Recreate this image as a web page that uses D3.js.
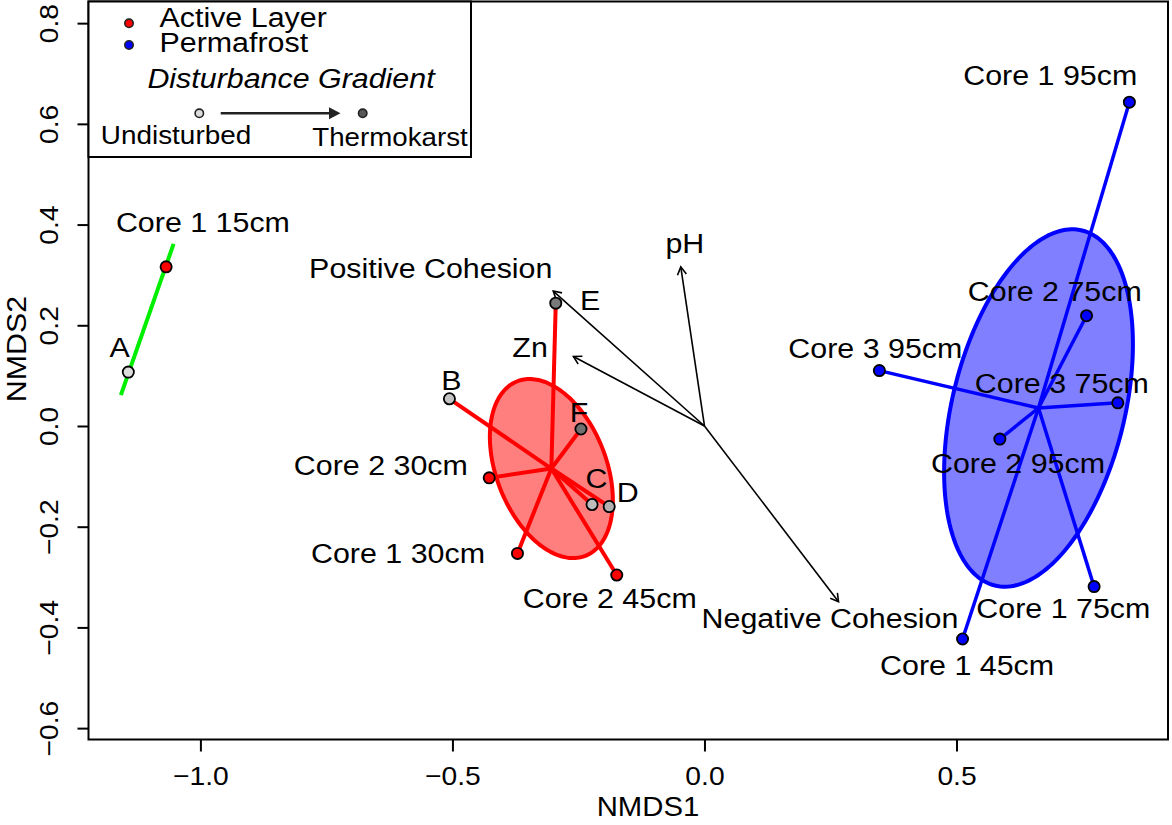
<!DOCTYPE html>
<html>
<head>
<meta charset="utf-8">
<script src="https://cdn.jsdelivr.net/npm/d3@7"></script>
<style>
  html, body { margin: 0; padding: 0; background: #fff; }
  svg { display: block; font-family: "Liberation Sans", Arial, Helvetica, sans-serif; }
</style>
</head>
<body>
<svg id="chart" width="1172" height="825"></svg>
<script>
// ---------------- DATA ----------------
const sampleNames = ["Core 1 15cm", "A",
  "B", "C", "D", "E", "F", "Core 1 30cm", "Core 2 30cm", "Core 2 45cm",
  "Core 1 45cm", "Core 1 75cm", "Core 1 95cm", "Core 2 75cm", "Core 2 95cm", "Core 3 75cm", "Core 3 95cm"];
// cluster membership (ellipse / spider groups)
const sampleCluster = ["g1", "g1",
  "g2", "g2", "g2", "g2", "g2", "g2", "g2", "g2",
  "g3", "g3", "g3", "g3", "g3", "g3", "g3"];
// sample type: active layer, permafrost, or reference (disturbance gradient)
const sampleType = ["active", "reference",
  "reference", "reference", "reference", "reference", "reference", "active", "active", "active",
  "permafrost", "permafrost", "permafrost", "permafrost", "permafrost", "permafrost", "permafrost"];
// disturbance index for reference samples (0 = undisturbed, 1 = thermokarst)
const disturbance = [null, 0.03,
  0.21, 0.26, 0.35, 0.76, 0.82, null, null, null,
  null, null, null, null, null, null, null];
const nmds1 = [-1.068, -1.143,
  -0.506, -0.223, -0.189, -0.295, -0.245, -0.371, -0.427, -0.174,
  0.512, 0.773, 0.843, 0.758, 0.586, 0.820, 0.347];
const nmds2 = [0.316, 0.107,
  0.054, -0.156, -0.160, 0.244, -0.006, -0.253, -0.103, -0.296,
  -0.423, -0.319, 0.643, 0.219, -0.026, 0.046, 0.110];
// label anchor (centre of text) in NMDS coordinates
const labelX = [-0.995, -1.160,
  -0.502, -0.214, -0.152, -0.227, -0.249, -0.608, -0.642, -0.188,
  0.521, 0.712, 0.686, 0.695, 0.622, 0.709, 0.339];
const labelY = [0.405, 0.157,
  0.091, -0.103, -0.131, 0.250, 0.028, -0.252, -0.078, -0.342,
  -0.475, -0.362, 0.697, 0.267, -0.074, 0.085, 0.154];

// ellipses (semi-axes and rotation in NMDS units / degrees)
const ellipseCluster = ["g1", "g2", "g3"];
const ellipseA = [0.159, 0.186, 0.363];
const ellipseB = [0.0, 0.109, 0.171];
const ellipseAngle = [70.8, -68.7, 76.2];

// fitted environmental vectors
const vectorNames = ["Positive Cohesion", "Negative Cohesion", "Zn", "pH"];
const vectorX = [-0.300, 0.266, -0.260, -0.047];
const vectorY = [0.268, -0.349, 0.138, 0.316];
const vectorLabelX = [-0.543, 0.249, -0.346, -0.039];
const vectorLabelY = [0.314, -0.381, 0.157, 0.364];

// axes
const xTicks = [-1.0, -0.5, 0.0, 0.5];
const yTicks = [-0.6, -0.4, -0.2, 0.0, 0.2, 0.4, 0.6, 0.8];
const xTitle = "NMDS1";
const yTitle = "NMDS2";
const legendLayers = ["Active Layer", "Permafrost"];
const legendGradientTitle = "Disturbance Gradient";
const legendGradientEnds = ["Undisturbed", "Thermokarst"];

// ---------------- STYLE ----------------
const SX = 1.086; // horizontal glyph stretch (wide Helvetica look)
const clusterColor = { g1: "#00ee00", g2: "#ff0000", g3: "#0000ff" };
const clusterFill = { g1: "none", g2: "rgba(255,0,0,0.5)", g3: "rgba(0,0,255,0.5)" };
const typeFill = { active: "#ff0000", permafrost: "#0000ff" };
const grey = d3.scaleLinear().domain([0, 1]).range(["#e0e0e0", "#585858"]).interpolate(d3.interpolateRgb);

const svg = d3.select("#chart");
svg.append("rect").attr("width", 1172).attr("height", 825).attr("fill", "#fff");

const plotL = 88.5, plotR = 1168, plotT = 1.5, plotB = 739.5;
const x = d3.scaleLinear().domain([-1.222, 0.9196]).range([plotL, plotR]);
const y = d3.scaleLinear().domain([-0.6226, 0.843]).range([plotB, plotT]);

function addText(g, px, py, s, opt = {}) {
  const size = opt.size || 28;
  const rot = opt.rotate || 0;
  return g.append("text")
    .attr("transform", `translate(${px},${py}) rotate(${rot}) scale(${SX},1)`)
    .attr("dy", "0.35em")
    .attr("text-anchor", opt.anchor || "middle")
    .attr("font-size", size)
    .attr("font-style", opt.italic ? "italic" : "normal")
    .attr("fill", "#000")
    .text(s);
}

const samples = sampleNames.map((n, i) => ({
  name: n, cluster: sampleCluster[i], type: sampleType[i], dist: disturbance[i],
  x: nmds1[i], y: nmds2[i], lx: labelX[i], ly: labelY[i]
}));

const centroids = {};
d3.group(samples, d => d.cluster).forEach((arr, k) => {
  centroids[k] = { x: d3.mean(arr, d => d.x), y: d3.mean(arr, d => d.y) };
});

const plot = svg.append("g");

// ellipses
const line = d3.line().x(d => x(d[0])).y(d => y(d[1]));
ellipseCluster.forEach((k, i) => {
  const c = centroids[k], a = ellipseA[i], b = ellipseB[i];
  const phi = ellipseAngle[i] * Math.PI / 180;
  let pts;
  if (b === 0) {
    pts = [[c.x - a * Math.cos(phi), c.y - a * Math.sin(phi)], [c.x + a * Math.cos(phi), c.y + a * Math.sin(phi)]];
    plot.append("path").attr("d", line(pts)).attr("stroke", clusterColor[k])
      .attr("stroke-width", 4).attr("fill", "none");
  } else {
    pts = d3.range(0, 201).map(j => {
      const t = j / 200 * 2 * Math.PI;
      return [c.x + a * Math.cos(phi) * Math.cos(t) - b * Math.sin(phi) * Math.sin(t),
              c.y + a * Math.sin(phi) * Math.cos(t) + b * Math.cos(phi) * Math.sin(t)];
    });
    plot.append("path").attr("d", line(pts) + "Z").attr("fill", clusterFill[k])
      .attr("stroke", clusterColor[k]).attr("stroke-width", 4);
  }
});

// spiders (red and blue clusters)
samples.filter(d => d.cluster !== "g1").forEach(d => {
  const c = centroids[d.cluster];
  plot.append("line")
    .attr("x1", x(c.x)).attr("y1", y(c.y)).attr("x2", x(d.x)).attr("y2", y(d.y))
    .attr("stroke", clusterColor[d.cluster]).attr("stroke-width", d.cluster === "g2" ? 4 : 3.5)
    .attr("stroke-linecap", "butt");
});

// environmental vectors
vectorNames.forEach((n, i) => {
  const x0 = x(0), y0 = y(0), x1 = x(vectorX[i]), y1 = y(vectorY[i]);
  plot.append("line").attr("x1", x0).attr("y1", y0).attr("x2", x1).attr("y2", y1)
    .attr("stroke", "#000").attr("stroke-width", 1.6);
  const ang = Math.atan2(y1 - y0, x1 - x0), L = 9, w = Math.PI / 6;
  const h = [[x1 - L * Math.cos(ang - w), y1 - L * Math.sin(ang - w)], [x1, y1],
             [x1 - L * Math.cos(ang + w), y1 - L * Math.sin(ang + w)]];
  plot.append("path").attr("d", d3.line()(h)).attr("fill", "none")
    .attr("stroke", "#000").attr("stroke-width", 1.6);
});

// points
samples.forEach(d => {
  const fill = d.type === "reference" ? grey(d.dist) : typeFill[d.type];
  plot.append("circle").attr("cx", x(d.x)).attr("cy", y(d.y)).attr("r", 5.6)
    .attr("fill", fill).attr("stroke", "#000").attr("stroke-width", 1.8);
});

// labels
samples.forEach(d => addText(plot, x(d.lx), y(d.ly), d.name));
vectorNames.forEach((n, i) => addText(plot, x(vectorLabelX[i]), y(vectorLabelY[i]), n));

// axes
const xAxis = svg.append("g").attr("transform", `translate(0,${plotB})`)
  .call(d3.axisBottom(x).tickValues(xTicks).tickSize(12).tickFormat(d => d3.format(".1f")(d).replace("-", "\u2212")));
xAxis.select(".domain").remove();
xAxis.selectAll(".tick line").attr("stroke", "#000").attr("stroke-width", 2);
xAxis.selectAll(".tick text").attr("y", 0).attr("dy", "0.35em")
  .attr("transform", `translate(0,36.5) scale(${SX},1)`)
  .attr("font-size", 26).attr("font-family", null).attr("fill", "#000");

const yAxis = svg.append("g").attr("transform", `translate(${plotL},0)`)
  .call(d3.axisLeft(y).tickValues(yTicks).tickSize(11).tickFormat(d => d3.format(".1f")(d).replace("-", "\u2212")));
yAxis.select(".domain").remove();
yAxis.selectAll(".tick line").attr("stroke", "#000").attr("stroke-width", 2);
yAxis.selectAll(".tick text").attr("x", 0).attr("dy", "0.35em").attr("text-anchor", "middle")
  .attr("transform", `translate(-39.7,0) rotate(-90) scale(${SX},1)`)
  .attr("font-size", 26).attr("font-family", null).attr("fill", "#000");

// box
svg.append("rect").attr("x", plotL).attr("y", plotT).attr("width", plotR - plotL).attr("height", plotB - plotT)
  .attr("fill", "none").attr("stroke", "#000").attr("stroke-width", 2);

// axis titles
addText(svg, 648, 807, xTitle, { size: 27 });
addText(svg, 16, 349, yTitle, { size: 28, rotate: -90 });

// legend
const lg = svg.append("g");
lg.append("rect").attr("x", plotL).attr("y", plotT).attr("width", 471 - plotL).attr("height", 157 - plotT)
  .attr("fill", "#fff").attr("stroke", "#000").attr("stroke-width", 2);
[["active", 23.3, 17], ["permafrost", 45, 42.5]].forEach((r, i) => {
  lg.append("circle").attr("cx", 129).attr("cy", r[1]).attr("r", 4.2)
    .attr("fill", typeFill[r[0]]).attr("stroke", "#222").attr("stroke-width", 1.6);
  addText(lg, 159.5, r[2], legendLayers[i], { anchor: "start", size: 28 });
});
addText(lg, 291, 78, legendGradientTitle, { italic: true, size: 28 });
lg.append("circle").attr("cx", 199.3).attr("cy", 113.3).attr("r", 4.2)
  .attr("fill", grey(0.03)).attr("stroke", "#222").attr("stroke-width", 1.6);
lg.append("circle").attr("cx", 362.7).attr("cy", 113.3).attr("r", 4.2)
  .attr("fill", grey(1)).attr("stroke", "#222").attr("stroke-width", 1.6);
lg.append("line").attr("x1", 220.7).attr("y1", 113.3).attr("x2", 332).attr("y2", 113.3)
  .attr("stroke", "#222").attr("stroke-width", 2.5);
lg.append("path").attr("d", d3.line()([[340.5, 113.3], [329, 107.3], [329, 119.3]]) + "Z").attr("fill", "#222");
addText(lg, 176, 135, legendGradientEnds[0], { size: 25.7 });
addText(lg, 390, 137, legendGradientEnds[1], { size: 25.5 });
</script>
</body>
</html>
